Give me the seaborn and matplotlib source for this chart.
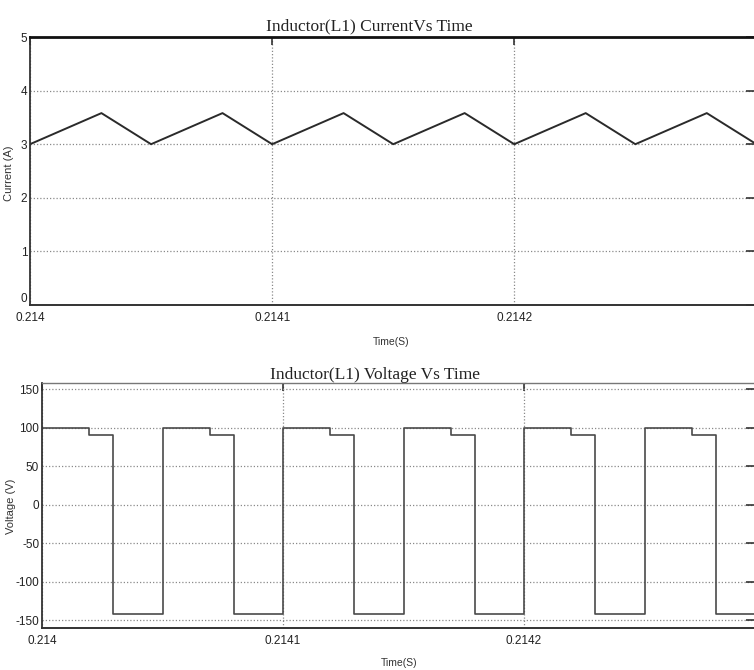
import matplotlib
matplotlib.use("Agg")
import matplotlib.pyplot as plt
import seaborn as sns
import pandas as pd

# ---- data ----
time_i = [0.214, 0.2140295, 0.21405, 0.2140795, 0.2141, 0.2141295, 0.21415,
          0.2141795, 0.2142, 0.2142295, 0.21425, 0.2142795, 0.2143]
current = [3.0, 3.58, 3.0, 3.58, 3.0, 3.58, 3.0, 3.58, 3.0, 3.58, 3.0, 3.58, 3.0]

time_v = [0.214, 0.2140195, 0.2140295, 0.21405, 0.2140695, 0.2140795,
          0.2141, 0.2141195, 0.2141295, 0.21415, 0.2141695, 0.2141795,
          0.2142, 0.2142195, 0.2142295, 0.21425, 0.2142695, 0.2142795, 0.2143]
voltage = [100, 90, -142, 100, 90, -142, 100, 90, -142, 100, 90, -142,
           100, 90, -142, 100, 90, -142, -142]

x_ticks = [0.214, 0.2141, 0.2142]
x_tick_labels = ["0.214", "0.2141", "0.2142"]
i_ticks = [0, 1, 2, 3, 4, 5]
i_tick_labels = ["0", "1", "2", "3", "4", "5"]
v_ticks = [150, 100, 50, 0, -50, -100, -150]
v_tick_labels = ["150", "100", "50", "0", "-50", "-100", "-150"]

title_i = "Inductor(L1) CurrentVs Time"
title_v = "Inductor(L1) Voltage Vs Time"
ylabel_i = "Current (A)"
ylabel_v = "Voltage (V)"
xlabel = "Time(S)"

df_i = pd.DataFrame({"t": time_i, "i": current})
df_v = pd.DataFrame({"t": time_v, "v": voltage})

sns.set_style("white")
plt.rcParams["font.family"] = ["Liberation Sans", "DejaVu Sans"]

narrow = ["Liberation Sans", "DejaVu Sans"]
serif = ["Liberation Serif", "DejaVu Serif"]

W, H = 754, 670
fig = plt.figure(figsize=(W / 100, H / 100), dpi=100)

def px_axes(left, top, right, bottom):
    return fig.add_axes([left / W, 1 - bottom / H, (right - left) / W, (bottom - top) / H])

ax1 = px_axes(30, 37, 754, 305)
ax2 = px_axes(42, 383, 754, 628)

sns.lineplot(data=df_i, x="t", y="i", ax=ax1, color="#2a2a2a", linewidth=1.4,
             estimator=None, sort=False)
sns.lineplot(data=df_v, x="t", y="v", ax=ax2, color="#4a4a4a", linewidth=1.2,
             estimator=None, sort=False, drawstyle="steps-post")

ax1.set_xlim(0.214, 0.214299)
ax1.set_ylim(0, 5)
ax2.set_xlim(0.214, 0.2142954)
ax2.set_ylim(-160, 158)

for ax, yt, ytl in [(ax1, i_ticks, i_tick_labels), (ax2, v_ticks, v_tick_labels)]:
    ax.set_xticks(x_ticks)
    ax.set_xticklabels(x_tick_labels, family=narrow, fontsize=8.5, color="#222")
    ax.set_yticks(yt)
    ax.set_yticklabels(ytl, family=narrow, fontsize=8.5, color="#222")
    ax.tick_params(direction="in", length=6, width=1.2, top=True, right=True,
                   color="#333")
    ax.tick_params(axis="x", pad=5)
    ax.tick_params(axis="y", pad=2)
    ax.grid(True, linestyle=(0, (1, 1.6)), color="#8a8a8a", linewidth=0.9)
    ax.set_axisbelow(True)
    ax.spines["right"].set_visible(False)
    ax.spines["left"].set_color("#333")
    ax.spines["left"].set_linewidth(1.3)
    ax.spines["bottom"].set_color("#333")
    ax.spines["bottom"].set_linewidth(1.4)
    ax.set_xlabel("")
    ax.set_ylabel("")

# lift the "0" label of the current axis so it sits above the x tick label
ax1.get_yticklabels()[0].set_va("bottom")

ax1.spines["top"].set_color("#111")
ax1.spines["top"].set_linewidth(2.0)
ax2.spines["top"].set_color("#777")
ax2.spines["top"].set_linewidth(1.0)

ax1.set_title(title_i, x=0.468, y=1.0, pad=5, family=serif, fontsize=12.5, color="#222")
ax2.set_title(title_v, x=0.468, y=1.0, pad=3, family=serif, fontsize=12.5, color="#222")

fig.text(9 / W, 1 - 173 / H, ylabel_i, rotation=90, ha="center", va="center",
         family=narrow, fontsize=8, color="#333")
fig.text(11 / W, 1 - 506 / H, ylabel_v, rotation=90, ha="center", va="center",
         family=narrow, fontsize=8, color="#333")

fig.text(391 / W, 1 - 342 / H, xlabel, ha="center", va="center",
         family=narrow, fontsize=7.5, color="#333")
fig.text(399 / W, 1 - 663 / H, xlabel, ha="center", va="center",
         family=narrow, fontsize=7.5, color="#333")

fig.savefig("out.png", dpi=100)
